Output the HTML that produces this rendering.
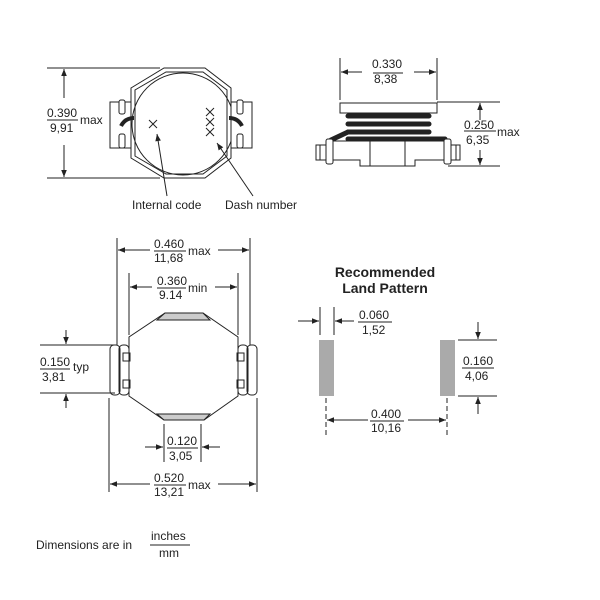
<!DOCTYPE html>
<html><head><meta charset="utf-8"><style>
html,body{margin:0;padding:0;background:#fff;}
svg{display:block;}
text{font-family:"Liberation Sans",sans-serif;font-size:12px;fill:#222;}
</style></head><body>
<svg width="600" height="600" viewBox="0 0 600 600" xmlns="http://www.w3.org/2000/svg">
<defs>
<marker id="a" viewBox="0 0 10 10" refX="10" refY="5" markerWidth="9" markerHeight="7" orient="auto-start-reverse" markerUnits="userSpaceOnUse"><path d="M0,1 L10,5 L0,9 z" fill="#222"/></marker>
</defs>
<g stroke="#222" stroke-width="1" fill="none">
<!-- TOP LEFT VIEW -->
<line x1="47" y1="68" x2="160" y2="68"/>
<line x1="47" y1="178" x2="160" y2="178"/>
<line x1="64" y1="98" x2="64" y2="69" marker-end="url(#a)"/>
<line x1="64" y1="145" x2="64" y2="177" marker-end="url(#a)"/>
<line x1="47" y1="120" x2="78" y2="120"/>
<path d="M164,68 L205,68 L231,88 L231,158 L205,178 L164,178 L131,158 L131,88 Z" fill="#fff"/>
<path d="M166,72 L203,72 L227,90 L227,156 L203,174 L166,174 L135,156 L135,90 Z"/>
<circle cx="183" cy="124" r="51"/>
<!-- tabs left -->
<rect x="110" y="102" width="21" height="46" fill="#fff"/>
<rect x="119" y="100" width="6" height="14" rx="2" fill="#fff"/>
<rect x="119" y="134" width="6" height="14" rx="2" fill="#fff"/>
<path d="M121,126 Q125,118 134,118" stroke-width="4"/>
<!-- tabs right -->
<rect x="231" y="102" width="21" height="46" fill="#fff"/>
<rect x="237" y="100" width="6" height="14" rx="2" fill="#fff"/>
<rect x="237" y="134" width="6" height="14" rx="2" fill="#fff"/>
<path d="M242,126 Q238,118 229,118" stroke-width="4"/>
<path d="M149,120 L157,128 M157,120 L149,128"/>
<path d="M206,108 L214,116 M214,108 L206,116 M206,118 L214,126 M214,118 L206,126 M206,128 L214,136 M214,128 L206,136"/>
<line x1="167" y1="196" x2="157" y2="134" marker-end="url(#a)"/>
<line x1="253" y1="196" x2="217" y2="143" marker-end="url(#a)"/>

<!-- TOP RIGHT SIDE VIEW -->
<line x1="340" y1="58" x2="340" y2="100"/>
<line x1="437" y1="58" x2="437" y2="100"/>
<line x1="362" y1="72" x2="341" y2="72" marker-end="url(#a)"/>
<line x1="414" y1="72" x2="436" y2="72" marker-end="url(#a)"/>
<line x1="373" y1="73" x2="403" y2="73"/>
<rect x="340" y="103" width="97" height="10"/>
<g stroke-width="5" stroke-linecap="round">
<line x1="348" y1="116" x2="429" y2="116"/>
<line x1="348" y1="124" x2="429" y2="124"/>
<line x1="348" y1="132" x2="429" y2="132"/>
<line x1="348" y1="139" x2="445" y2="139"/>
<path d="M331,140 L348,132"/>
</g>
<path d="M330,141 L448,141 L448,160 L415,160 L415,166 L360,166 L360,160 L330,160 Z"/>
<line x1="370" y1="141" x2="370" y2="166"/>
<line x1="405" y1="141" x2="405" y2="166"/>
<rect x="326" y="139" width="7" height="25" rx="2" fill="#fff"/>
<rect x="444" y="139" width="7" height="25" rx="2" fill="#fff"/>
<path d="M326,145 L316,145 L316,160 L326,160 M320,145 L320,160"/>
<path d="M451,145 L460,145 L460,160 L451,160 M456,145 L456,160"/>
<line x1="437" y1="102" x2="500" y2="102"/>
<line x1="448" y1="166" x2="500" y2="166"/>
<line x1="480" y1="120" x2="480" y2="103" marker-end="url(#a)"/>
<line x1="480" y1="150" x2="480" y2="165" marker-end="url(#a)"/>
<line x1="464" y1="131" x2="496" y2="131"/>

<!-- BOTTOM LEFT TOP VIEW -->
<line x1="117" y1="238" x2="117" y2="345"/>
<line x1="250" y1="238" x2="250" y2="345"/>
<line x1="150" y1="250" x2="118" y2="250" marker-end="url(#a)"/>
<line x1="218" y1="250" x2="249" y2="250" marker-end="url(#a)"/>
<line x1="154" y1="251" x2="186" y2="251"/>
<line x1="129" y1="273" x2="129" y2="335"/>
<line x1="238" y1="273" x2="238" y2="335"/>
<line x1="152" y1="287" x2="130" y2="287" marker-end="url(#a)"/>
<line x1="215" y1="287" x2="237" y2="287" marker-end="url(#a)"/>
<line x1="157" y1="288" x2="186" y2="288"/>
<path d="M165,313 L203,313 L238,337 L238,396 L204,420 L164,420 L129,396 L129,337 Z"/>
<path d="M165,313 L203,313 L210,320 L157,320 Z" fill="#ccc"/>
<path d="M157,414 L210,414 L204,420 L164,420 Z" fill="#ccc"/>
<rect x="110" y="345" width="10" height="50" rx="4"/>
<rect x="119" y="345" width="10" height="50" rx="4"/>
<rect x="123" y="353" width="7" height="8"/>
<rect x="123" y="380" width="7" height="8"/>
<rect x="238" y="345" width="10" height="50" rx="4"/>
<rect x="247" y="345" width="10" height="50" rx="4"/>
<rect x="237" y="353" width="7" height="8"/>
<rect x="237" y="380" width="7" height="8"/>
<line x1="40" y1="345" x2="115" y2="345"/>
<line x1="40" y1="393" x2="115" y2="393"/>
<line x1="66" y1="330" x2="66" y2="344" marker-end="url(#a)"/>
<line x1="66" y1="408" x2="66" y2="394" marker-end="url(#a)"/>
<line x1="40" y1="369" x2="70" y2="369"/>
<line x1="164" y1="424" x2="164" y2="462"/>
<line x1="201" y1="424" x2="201" y2="462"/>
<line x1="145" y1="447" x2="163" y2="447" marker-end="url(#a)"/>
<line x1="220" y1="447" x2="202" y2="447" marker-end="url(#a)"/>
<line x1="167" y1="448" x2="198" y2="448"/>
<line x1="109" y1="398" x2="109" y2="492"/>
<line x1="257" y1="398" x2="257" y2="492"/>
<line x1="150" y1="484" x2="110" y2="484" marker-end="url(#a)"/>
<line x1="218" y1="484" x2="256" y2="484" marker-end="url(#a)"/>
<line x1="154" y1="485" x2="186" y2="485"/>

<!-- LAND PATTERN -->
<rect x="319" y="340" width="15" height="56" fill="#aaa" stroke="none"/>
<rect x="440" y="340" width="15" height="56" fill="#aaa" stroke="none"/>
<line x1="320" y1="307" x2="320" y2="335"/>
<line x1="334" y1="307" x2="334" y2="335"/>
<line x1="298" y1="321" x2="319" y2="321" marker-end="url(#a)"/>
<line x1="354" y1="321" x2="335" y2="321" marker-end="url(#a)"/>
<line x1="358" y1="322" x2="392" y2="322"/>
<line x1="326" y1="398" x2="326" y2="435" stroke-dasharray="5,3"/>
<line x1="447" y1="398" x2="447" y2="435" stroke-dasharray="5,3"/>
<line x1="368" y1="420" x2="327" y2="420" marker-end="url(#a)"/>
<line x1="408" y1="420" x2="446" y2="420" marker-end="url(#a)"/>
<line x1="370" y1="421" x2="404" y2="421"/>
<line x1="458" y1="340" x2="497" y2="340"/>
<line x1="458" y1="396" x2="497" y2="396"/>
<line x1="478" y1="322" x2="478" y2="339" marker-end="url(#a)"/>
<line x1="478" y1="414" x2="478" y2="397" marker-end="url(#a)"/>
<line x1="462" y1="368" x2="494" y2="368"/>
<line x1="150" y1="545" x2="190" y2="545"/>
</g>
<g>
<text x="47" y="117">0.390</text><text x="50" y="132">9,91</text><text x="80" y="124">max</text>
<text x="132" y="209">Internal code</text><text x="225" y="209">Dash number</text>
<text x="372" y="68">0.330</text><text x="374" y="83">8,38</text>
<text x="464" y="129">0.250</text><text x="466" y="144">6,35</text><text x="497" y="136">max</text>
<text x="154" y="248">0.460</text><text x="154" y="262">11,68</text><text x="188" y="255">max</text>
<text x="157" y="285">0.360</text><text x="159" y="299">9.14</text><text x="188" y="292">min</text>
<text x="40" y="366">0.150</text><text x="42" y="381">3,81</text><text x="73" y="371">typ</text>
<text x="167" y="445">0.120</text><text x="169" y="460">3,05</text>
<text x="154" y="482">0.520</text><text x="154" y="496">13,21</text><text x="188" y="489">max</text>
<text x="385" y="277" text-anchor="middle" font-weight="bold" style="font-size:14px">Recommended</text>
<text x="385" y="293" text-anchor="middle" font-weight="bold" style="font-size:14px">Land Pattern</text>
<text x="359" y="319">0.060</text><text x="362" y="334">1,52</text>
<text x="371" y="418">0.400</text><text x="371" y="432">10,16</text>
<text x="463" y="365">0.160</text><text x="465" y="380">4,06</text>
<text x="36" y="549">Dimensions are in</text>
<text x="151" y="540">inches</text><text x="159" y="557">mm</text>
</g>
</svg>
</body></html>
